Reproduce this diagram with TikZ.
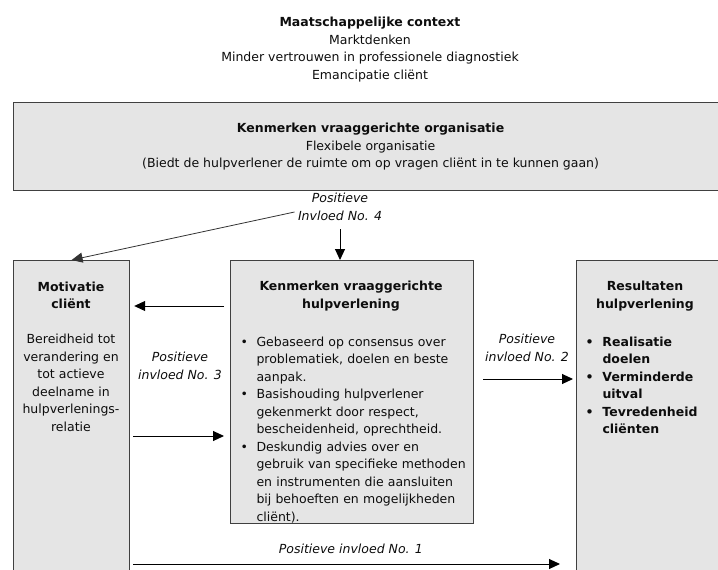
\documentclass[tikz,border=0pt]{standalone}
\usepackage{fontspec}
\setmainfont{DejaVu Sans}
\usetikzlibrary{arrows.meta}
\tikzset{box/.style={draw=black!75,line width=1.2pt,fill=black!10}}
\tikzset{tx/.style={font=\fontsize{12.5}{17.5}\selectfont,text=black!95,inner sep=0pt}}
\tikzset{lbl/.style={font=\fontsize{12.5}{17.5}\selectfont\itshape,text=black!95,inner sep=0pt}}
\newcommand\bulitem[1][16pt]{\par\noindent\hangindent=#1\hangafter=1\makebox[#1][l]{\textbullet}}

\begin{document}
\begin{tikzpicture}[x=1pt,y=-1pt,>={Triangle[length=11pt,width=10pt]},line width=1pt]
          \useasboundingbox (0,0) rectangle (718,570);
          \clip (0,0) rectangle (718,570);
          \node[tx,align=center,anchor=north] (ctx) at (370,17) {\textbf{Maatschappelijke context}\\Marktdenken\\Minder vertrouwen in professionele diagnostiek\\Emancipatie cliënt};
          \node[box,tx,align=center,anchor=north west,minimum width=714pt,minimum height=88pt] (org) at (13,102)
            {\textbf{Kenmerken vraaggerichte organisatie}\\Flexibele organisatie\\(Biedt de hulpverlener de ruimte om op vragen cliënt in te kunnen gaan)};
          \node[box,anchor=north west,minimum width=116pt,minimum height=340pt] (motiv) at (13,260) {};
          \node[box,anchor=north west,minimum width=243pt,minimum height=263pt] (hulp) at (230,260) {};
          \node[box,anchor=north west,minimum width=170pt,minimum height=340pt] (result) at (576,260) {};
          \node[tx,align=center,anchor=north] (motivT) at (71,281)
            {\textbf{Motivatie}\\\textbf{cliënt}\\[17.5pt]Bereidheid tot\\verandering en\\tot actieve\\deelname in\\hulpverlenings-\\relatie};
          \node[tx,align=center,anchor=north] (hulpT) at (351,281) {\textbf{Kenmerken vraaggerichte}\\\textbf{hulpverlening}};
          \node[tx,text width=230pt,anchor=north west] (hulpL) at (240,328)
            {\bulitem Gebaseerd op consensus over\newline problematiek, doelen en beste\newline aanpak.
             \bulitem Basishouding hulpverlener\newline gekenmerkt door respect,\newline bescheidenheid, oprechtheid.
             \bulitem Deskundig advies over en\newline gebruik van specifieke methoden\newline en instrumenten die aansluiten\newline bij behoeften en mogelijkheden\newline cliënt).\par};
          \node[tx,align=center,anchor=north] (resultT) at (645,281) {\textbf{Resultaten}\\\textbf{hulpverlening}};
          \node[tx,text width=130pt,anchor=north west] (resultL) at (585,328)
            {\bfseries\bulitem[17pt]Realisatie\newline doelen\bulitem[17pt]Verminderde\newline uitval\bulitem[17pt]Tevredenheid\newline cliënten\par};
          % invloed 4
          \node[lbl,align=center] (inv4) at (340,207) {Positieve\\Invloed No. 4};
          \draw[->] ([yshift=-8pt]inv4.south) -- (inv4.south |- hulp.north);
          \draw[->,line width=0.8pt,draw=black!80] ([shift={(-3,5)}]inv4.west) -- (motiv.north);
          % invloed 3
          \node[lbl,align=center] (inv3) at (180,366) {Positieve\\invloed No. 3};
          \draw[->] ([shift={(-6,46)}]hulp.north west) -- ([shift={(4,46)}]motiv.north east);
          \draw[->] ([shift={(3,176)}]motiv.north east) -- ([shift={(-6,176)}]hulp.north west);
          % invloed 2
          \node[lbl,align=center] (inv2) at (527,348) {Positieve\\invloed No. 2};
          \draw[->] ([shift={(9,119)}]hulp.north east) -- ([shift={(-3,119)}]result.north west);
          % invloed 1
          \draw[->] ([shift={(3,304)}]motiv.north east) -- node[lbl,above=10pt,pos=0.51] (inv1) {Positieve invloed No. 1} ([shift={(-16,304)}]result.north west);
        \end{tikzpicture}
\end{document}
